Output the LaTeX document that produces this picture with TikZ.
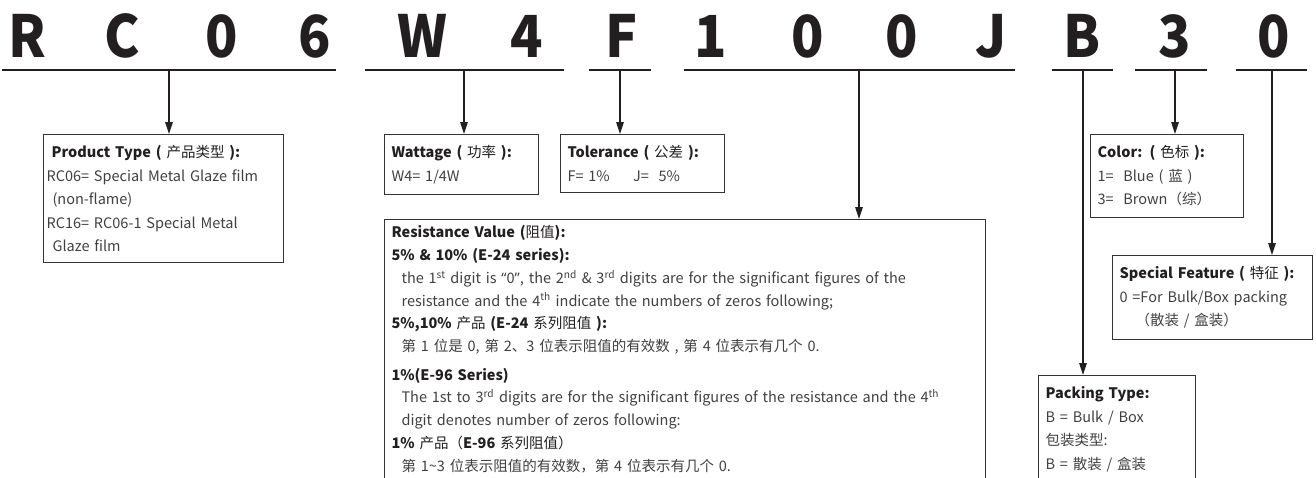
\documentclass[tikz,border=0pt]{standalone}
\usepackage{fontspec}
\setmainfont{Noto Sans CJK SC}
\newfontfamily\latinquote{Noto Sans}
\usetikzlibrary{arrows.meta, positioning, calc}
\definecolor{rcInk}{HTML}{231F20}
\definecolor{rcGray}{HTML}{404040}
\definecolor{rcEdge}{HTML}{333333}

\begin{document}
\begin{tikzpicture}[x=1pt,y=-1pt,
  infobox/.style={draw=rcEdge,line width=1.1pt,anchor=north west,align=left,
    inner xsep=7pt,inner ysep=11pt,text=rcGray,font=\fontsize{14.5}{23.5}\selectfont},
  codeline/.style={rcInk,line width=2.2pt},
  pointer/.style={rcInk,line width=1.2pt,-{Triangle[length=12pt,width=7.5pt]}}]
\useasboundingbox (0,0) rectangle (1316,477);
\newcommand{\codegroup}[4]{%
  \draw[codeline] (#2,70) -- (#3,70);
  \coordinate (#1) at (#4,70);
}
\newcommand{\boxhead}[1]{\textbf{\color{rcInk}#1}}
\newcommand{\hanzi}[1]{\textmd{#1}}
\foreach \cx/\ch [count=\i] in {27/R,122/C,222/0,315/6,422/W,527/4,622/F,711/1,808/0,902/0,991/J,1082/B,1175/3,1274/0}
  \node[anchor=base,inner sep=0pt,text=rcInk,xscale=0.92,transform shape,
    font=\fontsize{58}{58}\selectfont\bfseries] (ch\i) at (\cx,57) {\ch};
\codegroup{gProd}{2}{336}{169}
\codegroup{gWatt}{365}{564}{464}
\codegroup{gTol}{589}{651}{620}
\codegroup{gRes}{684}{1015}{859}
\codegroup{gPack}{1052}{1113}{1083}
\codegroup{gColor}{1135}{1207}{1175}
\codegroup{gSpec}{1236}{1307}{1272}
\node[infobox,inner xsep=3pt,text width=234pt] (prod) at (43,134) {%
  \boxhead{\hspace*{5pt}Product Type ( \hanzi{产品类型} ):}\\
  RC06= Special Metal Glaze film\\
  \hspace*{6pt}(non-flame)\\
  RC16= RC06-1 Special Metal\\
  \hspace*{6pt}Glaze film};
\node[infobox,text width=140pt] (watt) at (384,134) {%
  \boxhead{Wattage ( \hanzi{功率} ):}\\
  W4= 1/4W};
\node[infobox,text width=150pt] (tol) at (560,134) {%
  \boxhead{Tolerance ( \hanzi{公差} ):}\\
  F= 1\%\hspace{1.6em}J=\ \ 5\%};
\node[infobox,inner ysep=6pt,text width=587pt,font=\fontsize{14.5}{22.8}\selectfont] (res) at (384,219) {%
  \boxhead{Resistance Value (\hanzi{阻值}):}\\
  \boxhead{5\% \& 10\% (E-24 series):}\\
  \hspace*{10pt}the 1\textsuperscript{st} digit is {\latinquote “}0{\latinquote ”}, the 2\textsuperscript{nd} \& 3\textsuperscript{rd} digits are for the significant figures of the\\
  \hspace*{10pt}resistance and the 4\textsuperscript{th} indicate the numbers of zeros following;\\
  \boxhead{5\%,10\% \hanzi{产品} (E-24 \hanzi{系列阻值} ):}\\
  \hspace*{10pt}第 1 位是 0, 第 2、3 位表示阻值的有效数 , 第 4 位表示有几个 0.\\[5.5pt]
  \boxhead{1\%(E-96 Series)}\\
  \hspace*{10pt}The 1st to 3\textsuperscript{rd} digits are for the significant figures of the resistance and the 4\textsuperscript{th}\\
  \hspace*{10pt}digit denotes number of zeros following:\\
  \boxhead{1\% \hanzi{产品（}E-96 \hanzi{系列阻值）}}\\
  \hspace*{10pt}第 1\textasciitilde3 位表示阻值的有效数，第 4 位表示有几个 0.};
\node[infobox,text width=139pt] (colorbox) at (1090,134) {%
  \boxhead{Color: ( \hanzi{色标} ):}\\
  1=\ \ Blue ( 蓝 )\\
  3=\ \ Brown（综）};
\node[infobox,text width=186pt] (spec) at (1112,255) {%
  \boxhead{Special Feature ( \hanzi{特征} ):}\\
  0 =For Bulk/Box packing\\
  \hspace*{16pt}（散装 / 盒装）};
\node[infobox,text width=143pt] (pack) at (1038,375) {%
  \boxhead{Packing Type:}\\
  B = Bulk / Box\\
  包装类型:\\
  B = 散装 / 盒装};
\foreach \g/\b in {gProd/prod,gWatt/watt,gTol/tol,gRes/res,gPack/pack,gColor/colorbox,gSpec/spec}
  \draw[pointer] (\g) -- (\g |- \b.north);
\end{tikzpicture}
\end{document}
